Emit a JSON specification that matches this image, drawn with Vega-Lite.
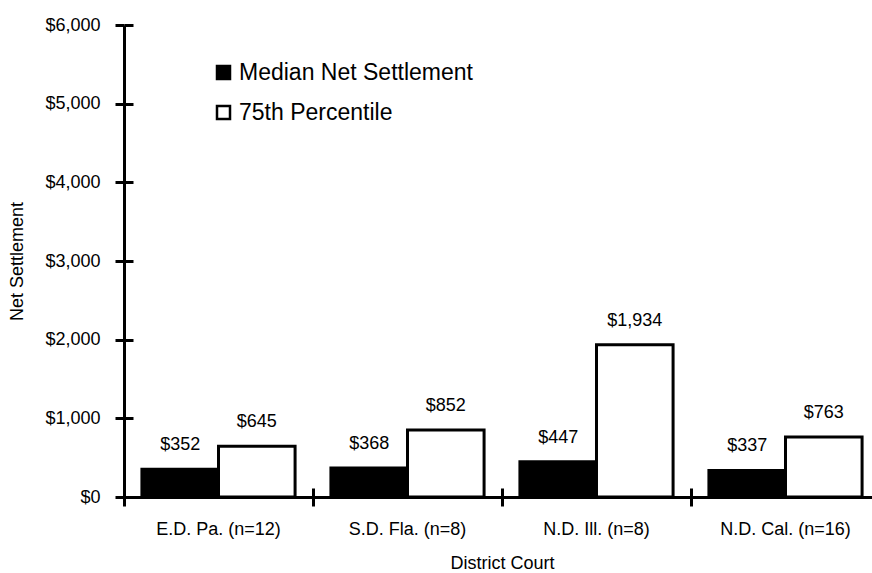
{
  "$schema": "https://vega.github.io/schema/vega-lite/v6.json",
  "width": 748,
  "height": 472,
  "autosize": {"type": "none"},
  "padding": {"left": 124, "top": 25, "right": 0, "bottom": 76},
  "config": {
    "view": {"stroke": null},
    "font": "Liberation Sans",
    "axis": {"labelColor": "black", "titleColor": "black", "domainColor": "black", "tickColor": "black", "domainWidth": 3, "tickWidth": 3, "labelFont": "Liberation Sans", "titleFont": "Liberation Sans", "titleFontWeight": "normal"}
  },
  "data": {
    "values": [
      {"court": "E.D. Pa. (n=12)", "series": "Median Net Settlement", "value": 352},
      {"court": "E.D. Pa. (n=12)", "series": "75th Percentile", "value": 645},
      {"court": "S.D. Fla. (n=8)", "series": "Median Net Settlement", "value": 368},
      {"court": "S.D. Fla. (n=8)", "series": "75th Percentile", "value": 852},
      {"court": "N.D. Ill. (n=8)", "series": "Median Net Settlement", "value": 447},
      {"court": "N.D. Ill. (n=8)", "series": "75th Percentile", "value": 1934},
      {"court": "N.D. Cal. (n=16)", "series": "Median Net Settlement", "value": 337},
      {"court": "N.D. Cal. (n=16)", "series": "75th Percentile", "value": 763}
    ]
  },
  "encoding": {
    "xOffset": {
      "field": "series", "type": "nominal",
      "sort": ["Median Net Settlement", "75th Percentile"],
      "scale": {"paddingInner": 0, "paddingOuter": 0.234}
    }
  },
  "layer": [
    {
      "mark": {"type": "bar", "stroke": "black", "strokeWidth": 3},
      "encoding": {
        "x": {
          "field": "court", "type": "nominal", "sort": null,
          "scale": {"range": [0, 756], "paddingInner": 0, "paddingOuter": 0},
          "axis": {"orient": "bottom", "title": "District Court", "labelAngle": 0, "labelFontSize": 18, "titleFontSize": 18, "tickSize": 9, "bandPosition": 0, "labelPadding": 14, "titlePadding": 16}
        },
        "y": {
          "field": "value", "type": "quantitative",
          "scale": {"domain": [0, 6000], "nice": false},
          "axis": {"orient": "left", "title": "Net Settlement", "format": "$,.0f", "grid": false, "values": [0, 1000, 2000, 3000, 4000, 5000, 6000], "labelFontSize": 18, "titleFontSize": 18, "tickSize": 9, "labelPadding": 15, "titlePadding": 18}
        },
        "color": {
          "field": "series", "type": "nominal",
          "scale": {"domain": ["Median Net Settlement", "75th Percentile"], "range": ["black", "white"]},
          "legend": {"title": null, "orient": "none", "legendX": 88, "legendY": 36, "symbolType": "square", "symbolSize": 169, "symbolStrokeColor": "black", "symbolStrokeWidth": 2.5, "labelFontSize": 23, "labelColor": "black", "labelOffset": 4, "labelLimit": 0, "rowPadding": 16}
        }
      }
    },
    {
      "mark": {"type": "text", "baseline": "bottom", "dy": -15, "fontSize": 18, "color": "black"},
      "encoding": {
        "x": {
          "field": "court", "type": "nominal", "sort": null,
          "axis": {"orient": "bottom", "title": null, "labels": false, "domain": false, "tickSize": -9, "bandPosition": 0}
        },
        "y": {
          "field": "value", "type": "quantitative",
          "axis": {"orient": "left", "title": null, "labels": false, "domain": false, "grid": false, "values": [0, 1000, 2000, 3000, 4000, 5000, 6000], "tickSize": -9}
        },
        "text": {"field": "value", "type": "quantitative", "format": "$,.0f"}
      }
    }
  ],
  "resolve": {"axis": {"x": "independent", "y": "independent"}}
}
